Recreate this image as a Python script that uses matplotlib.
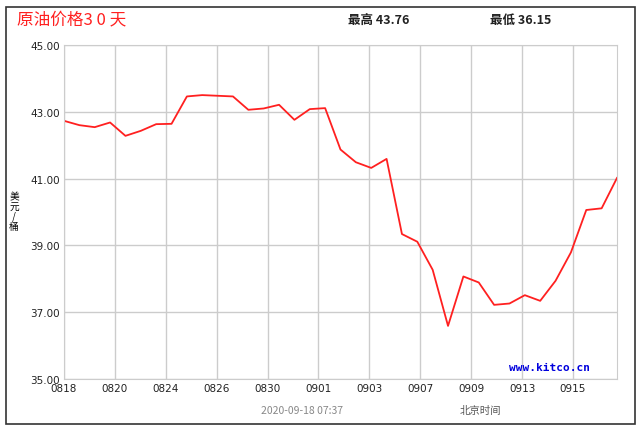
import matplotlib
matplotlib.use("Agg")
import matplotlib.pyplot as plt
from matplotlib.patches import Rectangle
import numpy as np

plt.rcParams['font.family'] = ['Noto Sans CJK SC', 'DejaVu Sans']

prices = [42.73, 42.60, 42.54, 42.68, 42.28, 42.43, 42.63, 42.64, 43.46, 43.50, 43.48, 43.46,
          43.06, 43.10, 43.21, 42.76, 43.08, 43.11, 41.87, 41.49, 41.32, 41.59, 39.34, 39.11,
          38.27, 36.59, 38.07, 37.89, 37.22, 37.26, 37.51, 37.34, 37.94, 38.79, 40.06, 40.11, 41.02]
tick_labels = ["0818", "0820", "0824", "0826", "0830", "0901", "0903", "0907", "0909", "0913", "0915"]
y_ticks = [35, 37, 39, 41, 43, 45]

W, H = 641, 431
fig = plt.figure(figsize=(W/100, H/100), dpi=100)
fig.patches.append(Rectangle((6/W, 6/H), 629/W, 417/H, transform=fig.transFigure,
                             fill=False, edgecolor='#333333', lw=1.2))
ax = fig.add_axes([64/W, 1-380/H, 553/W, 334/H])
n = len(prices)
x = np.arange(n)
ax.plot(x, prices, color='#ff2020', lw=1.3)
ax.set_xlim(0, n-1)
ax.set_ylim(35, 45)
step = (n-1)*50.9/553
ax.set_xticks(np.arange(len(tick_labels))*step)
ax.set_xticklabels(tick_labels, fontsize=7.5, family=['DejaVu Sans'])
ax.set_yticks(y_ticks)
ax.set_yticklabels([f"{v:.2f}" for v in y_ticks], fontsize=7.5, family=['DejaVu Sans'])
ax.tick_params(length=0, pad=3, colors='#222222')
ax.grid(True, color='#cccccc', lw=1)
for s in ax.spines.values():
    s.set_color('#cccccc')

fig.text(17/W, 1-20/H, "原油价格3 0 天", color='#ff2020', fontsize=12, va='center')
fig.text(348/W, 1-20/H, "最高 43.76", fontsize=9, fontweight='bold', va='center', color='#222222')
fig.text(490/W, 1-20/H, "最低 36.15", fontsize=9, fontweight='bold', va='center', color='#222222')
fig.text(14/W, 1-212/H, "美\n元\n/\n桶", fontsize=7, ha='center', va='center', linespacing=0.95)
fig.text(590/W, 1-368/H, "www.kitco.cn", color='#0000dd', fontsize=8, fontweight='bold',
         ha='right', va='center', family=['DejaVu Sans Mono'])
fig.text(302/W, 1-411/H, "2020-09-18 07:37", color='#888888', fontsize=7.5, ha='center', va='center')
fig.text(480/W, 1-411/H, "北京时间", color='#555555', fontsize=7.5, ha='center', va='center')
fig.savefig("out.png", dpi=100)
